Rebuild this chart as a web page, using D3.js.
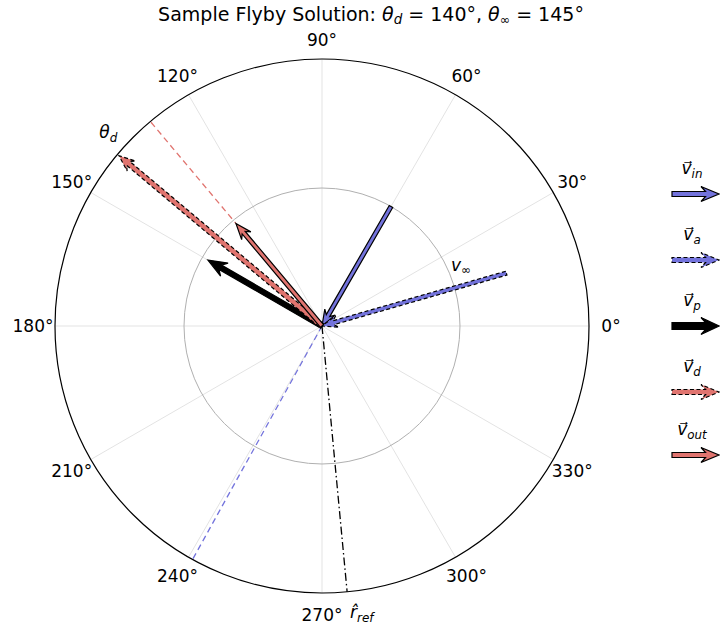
<!DOCTYPE html>
<html>
<head>
<meta charset="utf-8">
<script src="https://cdn.jsdelivr.net/npm/d3@7"></script>
<style>
  body { margin: 0; background: #fff; }
  svg { font-family: "DejaVu Sans", sans-serif; }
</style>
</head>
<body>
<div id="chart"></div>
<script>

// angular ticks (deg) and radial grid
var thetaTicks = d3.range(0, 360, 30);
var radialTicks = [1];
var rMax = 1.935;

// flyby vectors, polar (deg, magnitude); inbound ones point at the origin
var vecNames = ["v_in", "v_a", "v_p", "v_d", "v_out"];
var vecSubs = ["in", "a", "p", "d", "out"];
var vecAngles = [60, 16, 150, 140, 130];
var vecMags = [1.0, 1.39, 0.955, 1.92, 0.97];
var vecInbound = [true, true, false, false, false];

// thin reference lines out to the rim
var guideNames = ["out", "in", "ref"];
var guideAngles = [130, 241, 275.4];

var width = 720, height = 632;
var cx = 322, cy = 326, R = 267;

var blue = "#7373dc", red = "#e0746f";

var vecStyle = {
  v_in:  { fill: blue, dash: null, sw: 4, hw: 12, hl: 16 },
  v_a:   { fill: blue, dash: "4,2.5", sw: 4, hw: 12, hl: 16 },
  v_p:   { fill: "#000", dash: null, sw: 5, hw: 15, hl: 19 },
  v_d:   { fill: red, dash: "4,2.5", sw: 5, hw: 13, hl: 16 },
  v_out: { fill: red, dash: null, sw: 4, hw: 12, hl: 16 }
};
var guideStyle = {
  out: { stroke: red, dash: "6,4" },
  in:  { stroke: blue, dash: "6,4" },
  ref: { stroke: "#000", dash: "8,3,1.5,3" }
};

var svg = d3.select("#chart").append("svg")
    .attr("width", width)
    .attr("height", height);

var rScale = d3.scaleLinear().domain([0, rMax]).range([0, R]);

function pt(deg, r) {
  var a = deg * Math.PI / 180;
  return [cx + rScale(r) * Math.cos(a), cy - rScale(r) * Math.sin(a)];
}

// arrow outline with slightly swept-back head
function arrowPath(p0, p1, s) {
  var dx = p1[0] - p0[0], dy = p1[1] - p0[1];
  var L = Math.sqrt(dx * dx + dy * dy);
  var ux = dx / L, uy = dy / L, nx = -uy, ny = ux;
  var j = s.hl * 0.75;
  function at(back, side) { return [p1[0] - ux * back + nx * side, p1[1] - uy * back + ny * side]; }
  var pts = [
    [p0[0] + nx * s.sw / 2, p0[1] + ny * s.sw / 2],
    at(j, s.sw / 2),
    at(s.hl, s.hw / 2),
    p1,
    at(s.hl, -s.hw / 2),
    at(j, -s.sw / 2),
    [p0[0] - nx * s.sw / 2, p0[1] - ny * s.sw / 2]
  ];
  return "M" + pts.map(function(p){ return p[0].toFixed(2) + "," + p[1].toFixed(2); }).join("L") + "Z";
}

// grid
var grid = svg.append("g");
grid.selectAll(".spoke")
    .data(thetaTicks).enter()
    .append("line")
    .attr("x1", cx).attr("y1", cy)
    .attr("x2", function(d){ return pt(d, rMax)[0]; })
    .attr("y2", function(d){ return pt(d, rMax)[1]; })
    .attr("stroke", "#e3e3e3")
    .attr("stroke-width", 1);

grid.selectAll(".ring")
    .data(radialTicks).enter()
    .append("circle")
    .attr("cx", cx).attr("cy", cy)
    .attr("r", function(d){ return rScale(d); })
    .attr("fill", "none")
    .attr("stroke", "#b0b0b0")
    .attr("stroke-width", 1);

svg.append("circle")
    .attr("cx", cx).attr("cy", cy).attr("r", R)
    .attr("fill", "none")
    .attr("stroke", "#000")
    .attr("stroke-width", 1.2);

// tick labels
svg.selectAll(".tlab")
    .data(thetaTicks).enter()
    .append("text")
    .attr("x", function(d){ return cx + (R + 22) * Math.cos(d * Math.PI / 180); })
    .attr("y", function(d){ return cy - (R + (d == 90 ? 19 : 22)) * Math.sin(d * Math.PI / 180); })
    .attr("text-anchor", "middle")
    .attr("dominant-baseline", "central")
    .style("font-size", "17px")
    .text(function(d){ return d + "°"; });

// guide lines
svg.selectAll(".guide")
    .data(guideNames).enter()
    .append("line")
    .attr("x1", cx).attr("y1", cy)
    .attr("x2", function(d, i){ return pt(guideAngles[i], rMax)[0]; })
    .attr("y2", function(d, i){ return pt(guideAngles[i], rMax)[1]; })
    .attr("stroke", function(d){ return guideStyle[d].stroke; })
    .attr("stroke-dasharray", function(d){ return guideStyle[d].dash; })
    .attr("stroke-width", 1.3);

// vectors
svg.selectAll(".vec")
    .data(vecNames).enter()
    .append("path")
    .attr("d", function(d, i){
      var p = pt(vecAngles[i], vecMags[i]), o = [cx, cy];
      return vecInbound[i] ? arrowPath(p, o, vecStyle[d]) : arrowPath(o, p, vecStyle[d]);
    })
    .attr("fill", function(d){ return vecStyle[d].fill; })
    .attr("stroke", "#000")
    .attr("stroke-width", 1.2)
    .attr("stroke-dasharray", function(d){ return vecStyle[d].dash; })
    .attr("stroke-linejoin", "miter");

// vector-style label: italic v with combining arrow, then subscript
function vecLabel(g, x, y, sub, size) {
  var t = g.append("text").attr("x", x).attr("y", y)
      .attr("text-anchor", "middle")
      .style("font-size", size + "px");
  t.append("tspan").style("font-style", "italic").text("v\u20D7");
  t.append("tspan").style("font-style", "italic")
      .style("font-size", (size * 0.7) + "px")
      .attr("dy", size * 0.22).text(sub);
}

// legend
var legY = [194, 260, 326, 392, 455];
var leg = svg.append("g");
vecNames.forEach(function(d, i){
  var s = { sw: d == "v_p" ? 7 : 5, hw: d == "v_p" ? 17 : 15, hl: 18 };
  leg.append("path")
      .attr("d", arrowPath([672, legY[i]], [719, legY[i]], s))
      .attr("fill", vecStyle[d].fill)
      .attr("stroke", "#000")
      .attr("stroke-width", 1.2)
      .attr("stroke-dasharray", vecStyle[d].dash);
  vecLabel(leg, 692, legY[i] - 20, vecSubs[i], 17);
});

// annotations
var td = pt(137.8, 2.09);
var tdl = svg.append("text").attr("x", td[0]).attr("y", td[1] + 6)
    .attr("text-anchor", "middle").style("font-size", "17px");
tdl.append("tspan").style("font-style", "italic").text("θ");
tdl.append("tspan").style("font-style", "italic").style("font-size", "12px").attr("dy", 4).text("d");

var vi = pt(23.7, 1.1);
var vil = svg.append("text").attr("x", vi[0]).attr("y", vi[1] + 6)
    .attr("text-anchor", "middle").style("font-size", "17px");
vil.append("tspan").style("font-style", "italic").text("v");
vil.append("tspan").style("font-size", "12px").attr("dy", 3).text("∞");

var rr = pt(275.6, 2.08);
var rrl = svg.append("text").attr("x", rr[0]).attr("y", rr[1] + 6)
    .attr("text-anchor", "start").style("font-size", "17px");
rrl.append("tspan").style("font-style", "italic").text("r\u0302");
rrl.append("tspan").style("font-style", "italic").style("font-size", "12px").attr("dy", 4).text("ref");

// title
var title = svg.append("text")
    .attr("x", 371).attr("y", 21)
    .attr("text-anchor", "middle")
    .style("font-size", "19px");
title.append("tspan").text("Sample Flyby Solution: ");
title.append("tspan").style("font-style", "italic").text("θ");
title.append("tspan").style("font-style", "italic").style("font-size", "13.5px").attr("dy", 3).text("d");
title.append("tspan").attr("dy", -3).text(" = 140°, ");
title.append("tspan").style("font-style", "italic").text("θ");
title.append("tspan").style("font-size", "12.5px").attr("dy", 3).text("∞");
title.append("tspan").attr("dy", -3).text(" = 145°");

</script>
</body>
</html>
